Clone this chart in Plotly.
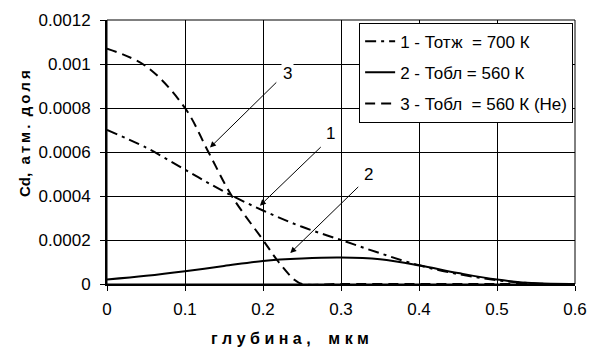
import plotly.graph_objects as go

x1 = [0, 0.05, 0.1, 0.15, 0.2, 0.25, 0.3, 0.35, 0.4, 0.45, 0.5, 0.55, 0.6]
y1 = [0.0007, 0.00062, 0.00052, 0.00042, 0.000334, 0.00026, 0.0002, 0.00014, 0.000085, 0.000045, 0.000017, 0.000002, 0]
x2 = [0, 0.05, 0.1, 0.15, 0.2, 0.25, 0.3, 0.35, 0.4, 0.45, 0.5, 0.55, 0.6]
y2 = [0.00002, 0.000037, 0.000058, 0.000082, 0.000105, 0.000116, 0.00012, 0.000112, 0.000085, 0.00005, 0.00002, 0.000003, 0]
x3 = [0, 0.05, 0.1, 0.13, 0.16, 0.2, 0.22, 0.24, 0.25, 0.3, 0.4, 0.5, 0.6]
y3 = [0.00107, 0.00099, 0.0008, 0.0006, 0.0004, 0.0002, 0.0001, 0.00002, 0, 0, 0, 0, 0]
names = ["1 - Тотж  = 700 К", "2 - Тобл = 560 К", "3 - Тобл  = 560 К (He)"]
xticks = [0, 0.1, 0.2, 0.3, 0.4, 0.5, 0.6]
yticks = [0, 0.0002, 0.0004, 0.0006, 0.0008, 0.001, 0.0012]
ytick_text = ["0", "0.0002", "0.0004", "0.0006", "0.0008", "0.001", "0.0012"]
labels = ["3", "1", "2"]
arrow_tip_x = [0.132, 0.196, 0.235]
arrow_tip_y = [0.00062, 0.000356, 0.000141]
arrow_tail_x = [0.219, 0.276, 0.324]
arrow_tail_y = [0.000923, 0.000629, 0.000448]
label_x = [0.231, 0.286, 0.335]
label_y = [0.000958, 0.000686, 0.0005]

FAM = "Liberation Sans, Arial, sans-serif"
NB = "\u00a0"
TH = "\u2009"

fig = go.Figure()
fig.add_trace(go.Scatter(x=x1, y=y1, mode="lines", name=names[0].replace("  ", NB + NB),
                         line_shape="spline", legendgroup="a",
                         line=dict(color="black", width=2, dash="11px,5px,3px,5px")))
fig.add_trace(go.Scatter(x=x2, y=y2, mode="lines", name=names[1], line_shape="spline",
                         legendgroup="b", line=dict(color="black", width=2)))
fig.add_trace(go.Scatter(x=x3, y=y3, mode="lines", name=names[2].replace("  ", NB + NB),
                         line_shape="spline", legendgroup="c",
                         line=dict(color="black", width=2, dash="10px,6px")))

fig.update_layout(
    width=598, height=352,
    margin=dict(l=107, r=23, t=11, b=68),
    paper_bgcolor="white", plot_bgcolor="white",
    font=dict(family=FAM, size=17, color="black"),
    showlegend=True,
    legend=dict(x=0.996, y=0.99, xanchor="right", yanchor="top",
                bordercolor="black", borderwidth=1, bgcolor="white",
                font=dict(family=FAM, size=17, color="black"),
                itemwidth=30, tracegroupgap=6),
    xaxis=dict(range=[0, 0.6], tickvals=xticks, ticktext=[str(v) for v in xticks],
               showgrid=True, gridcolor="black", gridwidth=1,
               showline=True, linecolor="black", linewidth=2,
               ticks="outside", ticklen=5, tickwidth=1, tickcolor="black",
               ticklabelstandoff=4, zeroline=False),
    yaxis=dict(range=[0, 0.0012], tickvals=yticks, ticktext=ytick_text,
               showgrid=True, gridcolor="black", gridwidth=1,
               showline=True, linecolor="black", linewidth=2,
               ticks="outside", ticklen=5, tickwidth=1, tickcolor="black",
               ticklabelstandoff=6, zeroline=False),
)

fig.add_shape(type="rect", xref="paper", yref="paper", x0=0, y0=0, x1=1, y1=1,
              line=dict(color="black", width=1), layer="above")

# axis titles with letter spacing
xtitle = NB.join("глубина,") + NB * 4 + NB.join("мкм")
ytitle = "Cd," + NB * 2 + TH.join("атм.") + NB * 2 + TH.join("доля")
fig.add_annotation(text="<b>" + xtitle + "</b>", xref="paper", yref="paper",
                   x=(290 - 107) / 468, y=(284 - 340) / 273, showarrow=False,
                   xanchor="center", yanchor="middle", font=dict(family=FAM, size=16))
fig.add_annotation(text="<b>" + ytitle + "</b>", xref="paper", yref="paper",
                   x=(24 - 107) / 468, y=(284 - 129) / 273, showarrow=False, textangle=-90,
                   xanchor="center", yanchor="middle", font=dict(family=FAM, size=15))

for i in range(3):
    fig.add_annotation(x=arrow_tip_x[i], y=arrow_tip_y[i], xref="x", yref="y",
                       ax=arrow_tail_x[i], ay=arrow_tail_y[i], axref="x", ayref="y",
                       text="", showarrow=True, arrowhead=2, arrowsize=1.2, arrowwidth=1,
                       arrowcolor="black")
    fig.add_annotation(x=label_x[i], y=label_y[i], xref="x", yref="y",
                       text=labels[i], showarrow=False, xanchor="center", yanchor="middle",
                       font=dict(family=FAM, size=17, color="black"),
                       bgcolor="white" if i == 0 else "rgba(0,0,0,0)", borderpad=1)

fig.write_html("out.html")
